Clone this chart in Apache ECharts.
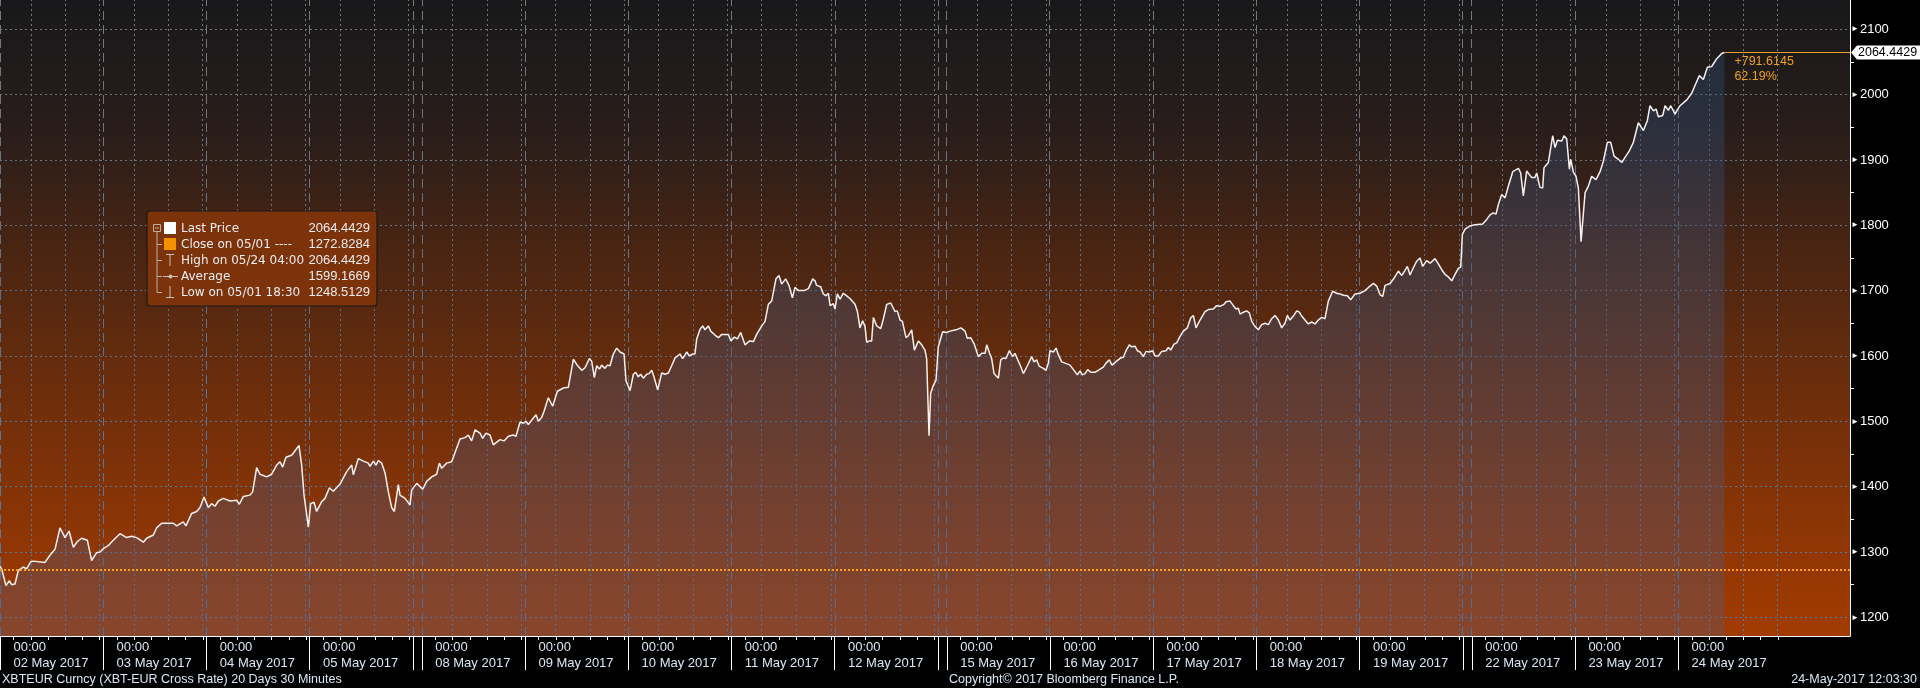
<!DOCTYPE html>
<html>
<head>
<meta charset="utf-8">
<script src="https://cdn.jsdelivr.net/npm/echarts@6/dist/echarts.min.js"></script>
<style>
html,body{margin:0;padding:0;background:#000;overflow:hidden;}
#c{width:1920px;height:688px;}
</style>
</head>
<body>
<div id="c"></div>
<script>
// ---------- DATA ----------
const dayLabels = ['02 May 2017','03 May 2017','04 May 2017','05 May 2017','08 May 2017','09 May 2017',
  '10 May 2017','11 May 2017','12 May 2017','15 May 2017','16 May 2017','17 May 2017','18 May 2017',
  '19 May 2017','22 May 2017','23 May 2017','24 May 2017'];
// position of each trading day's start on the (weekend-compressed) day axis
const dayStarts = [0,1,2,3,4.087,5.087,6.087,7.087,8.087,9.174,10.174,11.174,12.174,13.174,14.261,15.261,16.261];
const weekendBreaks = [4.0, 9.087, 14.174];
const yTicks = [1200,1300,1400,1500,1600,1700,1800,1900,2000,2100];
const yMinorTicks = [1250,1350,1450,1550,1650,1750,1850,1950,2050];

// price path (x in trading-day units)
const priceT = [
0.000,0.016,0.058,0.090,0.113,0.145,0.178,0.226,0.258,0.297,
0.323,0.436,0.484,0.533,0.581,0.630,0.669,0.711,0.749,0.791,
0.846,0.888,0.937,0.969,1.001,1.050,1.098,1.163,1.227,1.276,
1.324,1.389,1.421,1.486,1.518,1.567,1.680,1.712,1.776,1.802,
1.857,1.906,1.938,1.977,2.019,2.051,2.083,2.116,2.164,2.229,
2.293,2.319,2.358,2.422,2.448,2.487,2.519,2.584,2.632,2.681,
2.713,2.739,2.771,2.826,2.859,2.897,2.923,2.946,2.988,3.010,
3.043,3.068,3.117,3.149,3.191,3.230,3.295,3.359,3.408,3.424,
3.472,3.521,3.569,3.585,3.618,3.643,3.666,3.698,3.731,3.763,
3.795,3.821,3.860,3.876,3.924,3.973,3.989,4.038,4.096,4.134,
4.183,4.231,4.257,4.280,4.328,4.377,4.457,4.506,4.538,4.570,
4.603,4.651,4.677,4.709,4.748,4.780,4.845,4.884,4.926,4.974,
5.000,5.039,5.071,5.097,5.119,5.168,5.194,5.216,5.249,5.271,
5.313,5.355,5.401,5.459,5.507,5.556,5.588,5.636,5.669,5.711,
5.733,5.759,5.782,5.808,5.830,5.862,5.885,5.911,5.943,5.975,
6.008,6.047,6.066,6.105,6.137,6.160,6.185,6.208,6.234,6.266,
6.289,6.315,6.337,6.373,6.412,6.444,6.476,6.508,6.541,6.589,
6.615,6.654,6.680,6.712,6.734,6.751,6.783,6.809,6.831,6.864,
6.886,6.928,6.961,6.993,7.057,7.083,7.116,7.145,7.177,7.219,
7.261,7.300,7.332,7.381,7.413,7.445,7.477,7.519,7.548,7.574,
7.613,7.645,7.678,7.703,7.736,7.791,7.833,7.875,7.897,7.913,
7.952,7.978,8.004,8.027,8.043,8.075,8.091,8.114,8.140,8.172,
8.204,8.236,8.285,8.308,8.333,8.359,8.382,8.398,8.424,8.446,
8.463,8.495,8.534,8.560,8.592,8.631,8.672,8.695,8.721,8.744,
8.779,8.802,8.834,8.860,8.876,8.899,8.931,8.963,8.979,9.002,
9.018,9.044,9.070,9.092,9.109,9.134,9.173,9.205,9.264,9.312,
9.351,9.373,9.406,9.438,9.480,9.512,9.545,9.561,9.587,9.609,
9.632,9.674,9.697,9.722,9.748,9.780,9.813,9.835,9.868,9.890,
9.916,9.955,9.997,10.019,10.045,10.071,10.110,10.136,10.158,10.174,
10.207,10.233,10.255,10.288,10.320,10.368,10.407,10.439,10.465,10.488,
10.514,10.539,10.569,10.610,10.652,10.691,10.717,10.749,10.775,10.820,
10.859,10.885,10.911,10.943,10.966,10.998,11.021,11.047,11.079,11.105,
11.137,11.169,11.192,11.224,11.256,11.298,11.321,11.344,11.376,11.402,
11.434,11.466,11.505,11.537,11.563,11.589,11.628,11.676,11.709,11.757,
11.789,11.822,11.860,11.880,11.919,11.951,11.977,11.999,12.016,12.048,
12.080,12.106,12.129,12.161,12.193,12.225,12.258,12.290,12.322,12.355,
12.387,12.419,12.451,12.474,12.500,12.532,12.565,12.590,12.613,12.645,
12.677,12.710,12.742,12.774,12.807,12.839,12.871,12.913,12.952,12.984,
13.017,13.056,13.088,13.130,13.178,13.227,13.275,13.308,13.340,13.372,
13.398,13.421,13.469,13.508,13.550,13.582,13.614,13.637,13.663,13.695,
13.727,13.760,13.785,13.824,13.857,13.905,13.937,13.970,14.002,14.034,
14.067,14.099,14.131,14.154,14.170,14.196,14.244,14.293,14.367,14.406,
14.438,14.470,14.496,14.519,14.551,14.583,14.616,14.658,14.713,14.735,
14.761,14.793,14.842,14.874,14.890,14.922,14.948,14.961,15.003,15.045,
15.068,15.091,15.133,15.155,15.181,15.207,15.220,15.246,15.271,15.294,
15.320,15.359,15.391,15.423,15.465,15.504,15.536,15.575,15.607,15.640,
15.682,15.714,15.746,15.788,15.827,15.875,15.924,15.962,15.988,16.021,
16.047,16.069,16.111,16.134,16.166,16.189,16.231,16.247,16.279,16.344,
16.392,16.424,16.466,16.505,16.544,16.586,16.634,16.683,16.709
];
const priceV = [
1278,1274,1248.5,1256,1250,1251,1272,1277,1274,1285,
1286,1284,1295,1304,1337,1322,1332,1307,1316,1321,
1318,1287,1299,1300,1305,1310,1318,1328,1322,1324,
1322,1315,1321,1326,1337,1344,1344,1340,1346,1340,
1359,1362,1368,1384,1368,1374,1370,1378,1382,1378,
1379,1373,1385,1387,1392,1429,1419,1415,1419,1433,
1438,1430,1445,1448,1455,1463,1433,1387,1338,1374,
1376,1362,1377,1382,1398,1393,1404,1423,1433,1418,
1443,1439,1436,1431,1439,1433,1440,1436,1421,1392,
1368,1362,1403,1387,1382,1372,1395,1405,1396,1408,
1415,1419,1436,1428,1436,1438,1473,1475,1479,1470,
1487,1482,1474,1482,1479,1464,1472,1470,1477,1479,
1477,1499,1497,1500,1495,1505,1510,1500,1506,1515,
1536,1523,1546,1551,1552,1595,1587,1578,1582,1596,
1592,1567,1585,1580,1586,1581,1586,1585,1603,1612,
1606,1603,1562,1547,1572,1575,1568,1572,1566,1572,
1573,1578,1568,1548,1574,1572,1574,1585,1597,1603,
1596,1606,1600,1603,1603,1626,1641,1646,1640,1646,
1638,1632,1628,1633,1633,1623,1629,1626,1636,1617,
1623,1622,1633,1646,1653,1679,1684,1718,1723,1710,
1718,1708,1689,1705,1700,1700,1703,1718,1715,1708,
1706,1695,1692,1696,1677,1680,1672,1695,1687,1696,
1692,1688,1679,1668,1643,1654,1645,1621,1623,1623,
1659,1646,1642,1657,1679,1681,1668,1669,1655,1653,
1628,1631,1640,1609,1611,1623,1617,1609,1596,1478,
1543,1555,1563,1614,1617,1637,1636,1638,1640,1643,
1638,1627,1628,1619,1599,1604,1604,1617,1605,1596,
1573,1566,1594,1597,1596,1608,1599,1604,1592,1584,
1573,1585,1599,1591,1594,1584,1581,1578,1589,1608,
1606,1612,1602,1591,1589,1586,1578,1571,1577,1571,
1573,1579,1575,1575,1579,1583,1589,1594,1586,1592,
1597,1598,1608,1617,1614,1615,1608,1606,1599,1607,
1606,1608,1600,1600,1607,1608,1613,1609,1618,1620,
1630,1638,1643,1658,1662,1643,1655,1668,1671,1672,
1677,1676,1679,1683,1684,1677,1672,1673,1664,1667,
1669,1666,1653,1645,1640,1648,1650,1648,1657,1662,
1655,1643,1650,1662,1655,1661,1669,1667,1661,1655,
1649,1652,1649,1655,1659,1657,1684,1699,1696,1695,
1693,1692,1686,1695,1696,1700,1707,1711,1707,1694,
1691,1708,1711,1719,1730,1723,1731,1737,1724,1735,
1745,1750,1737,1746,1742,1749,1741,1732,1725,1721,
1715,1725,1734,1736,1786,1794,1799,1801,1802,1809,
1816,1819,1817,1832,1847,1842,1860,1882,1887,1880,
1845,1883,1873,1873,1880,1858,1857,1888,1896,1937,
1919,1930,1929,1937,1932,1886,1901,1881,1875,1857,
1775,1850,1860,1875,1870,1882,1898,1927,1927,1906,
1901,1896,1904,1914,1927,1957,1945,1960,1983,1975,
1978,1966,1968,1983,1976,1983,1970,1975,1983,1992,
2002,2014,2029,2023,2042,2043,2055,2063,2064.4429
];
const closeValue = 1272.8284;
const legendNames = ['Last Price','Close on 05/01 ----','High on 05/24 04:00','Average','Low on 05/01 18:30'];
const legendValues = ['2064.4429','1272.8284','2064.4429','1599.1669','1248.5129'];
const changeTexts = ['+791.6145','62.19%'];
const lastPriceText = '2064.4429';
const footerLeft = 'XBTEUR Curncy (XBT-EUR Cross Rate) 20 Days 30 Minutes';
const footerCenter = 'Copyright\u00A9 2017 Bloomberg Finance L.P.';
const footerRight = '24-May-2017 12:03:30';

// ---------- LAYOUT ----------
const FONT = "'Liberation Sans', Arial, sans-serif";
const LFONT = "'DejaVu Sans', Verdana, sans-serif";
const X_MIN = 0, X_MAX = 17.926, Y_MIN = 1171.4, Y_MAX = 2144.8;
const PLOT_BOTTOM = 636;
const LABEL_SHIFT = 0.13;
const labelPos = dayStarts.map(d => +(d + LABEL_SHIFT).toFixed(3));
const separators = dayStarts.concat(weekendBreaks).sort((a, b) => a - b);
const dotV = [], minorX = [];
dayStarts.forEach(d => {
  [0.297, 0.63, 0.963].forEach(o => { const v = +(d + o).toFixed(3); if (v < 17.25) dotV.push(v); });
  for (let j = 0; j < 6; j++) { const v = +(d + LABEL_SHIFT + j / 6).toFixed(3); if (v < 17.25) minorX.push(v); }
});

const LG = echarts.graphic.LinearGradient;
const gridLineColor = new LG(0, 0, 0, PLOT_BOTTOM, [
  {offset: 0, color: '#787878'}, {offset: 0.45, color: '#5f6f84'}, {offset: 1, color: '#4a7fba'}], true);
const bgGrad = new LG(0, 0, 0, 1, [
  {offset: 0, color: '#18181a'}, {offset: 0.2, color: '#281d1b'}, {offset: 0.4, color: '#4a2512'},
  {offset: 0.6, color: '#6a2d0c'}, {offset: 0.8, color: '#883406'}, {offset: 1, color: '#a23b00'}]);
const areaGrad = new LG(0, 0, 0, PLOT_BOTTOM, [
  {offset: 0, color: 'rgba(37,70,109,0.58)'}, {offset: 1, color: 'rgba(98,87,111,0.56)'}], true);

const chart = echarts.init(document.getElementById('c'), null, {renderer: 'canvas', width: 1920, height: 688});
const lastIdx = priceT.length - 1;

const option = {
  backgroundColor: '#000',
  animation: false,
  grid: {left: 0, top: 0, right: 70, bottom: 52, show: true, backgroundColor: bgGrad, borderWidth: 0, containLabel: false},
  xAxis: [{
    type: 'value', min: X_MIN, max: X_MAX, position: 'bottom', z: 10,
    axisLine: {show: true, onZero: false, lineStyle: {color: '#ffffff', width: 1}},
    axisTick: {show: true, customValues: separators, length: 34, lineStyle: {color: '#ffffff', width: 1}},
    axisLabel: {
      customValues: labelPos, align: 'left', margin: 3, lineHeight: 16,
      color: '#dbe7f4', fontSize: 13, fontFamily: FONT, hideOverlap: false,
      formatter: function (v) {
        for (let i = 0; i < labelPos.length; i++) {
          if (Math.abs(labelPos[i] - v) < 0.005) return '00:00\n' + dayLabels[i];
        }
        return '';
      }
    },
    splitLine: {show: false}
  }],
  yAxis: [{
    type: 'value', min: Y_MIN, max: Y_MAX, position: 'right', z: 10,
    axisLine: {show: true, onZero: false, lineStyle: {color: '#ffffff', width: 1}},
    axisTick: {show: true, customValues: yMinorTicks, length: 4, lineStyle: {color: '#ffffff', width: 1}},
    axisLabel: {
      customValues: yTicks, margin: 1, color: '#ffffff', fontSize: 13, fontFamily: FONT,
      formatter: v => '{t|\u25BA}' + v,
      rich: {t: {fontSize: 8, color: '#ffffff', padding: [0, 1, 0, 0]}}
    },
    splitLine: {show: false}
  }],
  series: [{
    name: 'grid', type: 'line', data: [], silent: true, z: 1,
    markLine: {
      silent: true, z: 1, symbol: ['none', 'none'], label: {show: false}, animation: false,
      emphasis: {disabled: true},
      lineStyle: {color: gridLineColor, width: 1, type: [2, 3]},
      data: [].concat(
        yTicks.map(v => ({yAxis: v})),
        dotV.map(v => ({xAxis: v})),
        separators.map(v => ({xAxis: v, lineStyle: {color: gridLineColor, width: 1, type: [9, 5]}}))
      )
    }
  }, {
    name: 'Last Price', type: 'line', z: 3,
    data: priceT.map((t, i) => [t, priceV[i]]),
    symbol: 'none', showSymbol: false, silent: true,
    lineStyle: {color: '#f6f0f0', width: 1.5},
    areaStyle: {color: areaGrad, origin: 'start'},
    markLine: {
      silent: true, z: 6, symbol: ['none', 'none'], label: {show: false}, animation: false,
      emphasis: {disabled: true},
      data: [
        {yAxis: closeValue, lineStyle: {color: '#ff9c1a', width: 2, type: [2, 2]}},
        [{coord: [priceT[lastIdx], priceV[lastIdx]], lineStyle: {color: '#f0a030', width: 1, type: 'solid'}},
         {coord: [X_MAX, priceV[lastIdx]]}]
      ]
    }
  }]
};
chart.setOption(option);

// ---------- ANNOTATIONS ----------
const p = chart.convertToPixel({xAxisIndex: 0, yAxisIndex: 0}, [priceT[lastIdx], priceV[lastIdx]]);
const edge = chart.convertToPixel({xAxisIndex: 0, yAxisIndex: 0}, [X_MAX, priceV[lastIdx]]);
const g = [];
function txt(x, y, text, opts) {
  g.push({type: 'text', x: x, y: y, z: 100, silent: true,
    style: Object.assign({text: text, fill: '#dbe7f4', fontSize: 13, fontFamily: FONT, align: 'left', verticalAlign: 'middle'}, opts || {})});
}
// minor time ticks under the plot
minorX.forEach(v => {
  const x = Math.round(chart.convertToPixel({xAxisIndex: 0}, v)) + 0.5;
  g.push({type: 'line', z: 100, silent: true, shape: {x1: x, y1: PLOT_BOTTOM, x2: x, y2: PLOT_BOTTOM + 4}, style: {stroke: '#ffffff', lineWidth: 1}});
});
// last price box on the axis
g.push({type: 'polygon', z: 100, silent: true,
  shape: {points: [[edge[0] + 1, edge[1]], [edge[0] + 7, edge[1] - 7], [1920, edge[1] - 7], [1920, edge[1] + 7], [edge[0] + 7, edge[1] + 7]]},
  style: {fill: '#ffffff'}});
txt(edge[0] + 8, edge[1] + 0.5, lastPriceText, {fill: '#000000', fontSize: 12.5});
// change texts
txt(p[0] + 10, p[1] + 9, changeTexts[0], {fill: '#eea21c', fontSize: 12.5});
txt(p[0] + 10, p[1] + 24, changeTexts[1], {fill: '#eea21c', fontSize: 12.5});
// footer
txt(2, 680, footerLeft, {fontSize: 12.5});
txt(1064, 680, footerCenter, {align: 'center', fontSize: 12.5});
txt(1917, 680, footerRight, {align: 'right', fontSize: 12.5});

// legend box
const LX = 147, LY = 211, LW = 230, LH = 95;
const rows = [228, 244, 260, 276, 292];
g.push({type: 'rect', z: 90, silent: true, shape: {x: LX, y: LY, width: LW, height: LH, r: 3},
  style: {fill: '#7c3309', stroke: '#1a1a1a', lineWidth: 1.2}});
// tree lines
g.push({type: 'rect', z: 95, silent: true, shape: {x: 153.5, y: 224.5, width: 7, height: 7}, style: {fill: 'none', stroke: '#b8b0a8', lineWidth: 1}});
g.push({type: 'line', z: 95, silent: true, shape: {x1: 155, y1: 228, x2: 159, y2: 228}, style: {stroke: '#b8b0a8', lineWidth: 1}});
g.push({type: 'line', z: 95, silent: true, shape: {x1: 157, y1: 232, x2: 157, y2: 292.5}, style: {stroke: '#b8b0a8', lineWidth: 1}});
for (let i = 1; i < rows.length; i++) {
  g.push({type: 'line', z: 95, silent: true, shape: {x1: 157, y1: rows[i] + 0.5, x2: 162, y2: rows[i] + 0.5}, style: {stroke: '#b8b0a8', lineWidth: 1}});
}
// icons
g.push({type: 'rect', z: 95, silent: true, shape: {x: 164, y: rows[0] - 6, width: 12, height: 12}, style: {fill: '#ffffff'}});
g.push({type: 'rect', z: 95, silent: true, shape: {x: 164, y: rows[1] - 6, width: 12, height: 12}, style: {fill: '#f39200'}});
g.push({type: 'line', z: 95, silent: true, shape: {x1: 166, y1: rows[2] - 5.5, x2: 174, y2: rows[2] - 5.5}, style: {stroke: '#c8c0b8', lineWidth: 1}});
g.push({type: 'line', z: 95, silent: true, shape: {x1: 170, y1: rows[2] - 5.5, x2: 170, y2: rows[2] + 6}, style: {stroke: '#c8c0b8', lineWidth: 1}});
g.push({type: 'line', z: 95, silent: true, shape: {x1: 163, y1: rows[3] + 0.5, x2: 178, y2: rows[3] + 0.5}, style: {stroke: '#c8c0b8', lineWidth: 1}});
g.push({type: 'circle', z: 96, silent: true, shape: {cx: 170.5, cy: rows[3] + 0.5, r: 2}, style: {fill: '#c8c0b8'}});
g.push({type: 'line', z: 95, silent: true, shape: {x1: 170, y1: rows[4] - 6, x2: 170, y2: rows[4] + 5.5}, style: {stroke: '#c8c0b8', lineWidth: 1}});
g.push({type: 'line', z: 95, silent: true, shape: {x1: 166, y1: rows[4] + 5.5, x2: 174, y2: rows[4] + 5.5}, style: {stroke: '#c8c0b8', lineWidth: 1}});
legendNames.forEach((n, i) => {
  txt(181, rows[i] + 0.5, n, {fill: '#ececf2', fontSize: 12, fontFamily: LFONT});
  txt(370, rows[i] + 0.5, legendValues[i], {fill: '#ececf2', align: 'right', fontSize: 13, fontFamily: FONT});
});
chart.setOption({graphic: {elements: g}});
</script>
</body>
</html>
